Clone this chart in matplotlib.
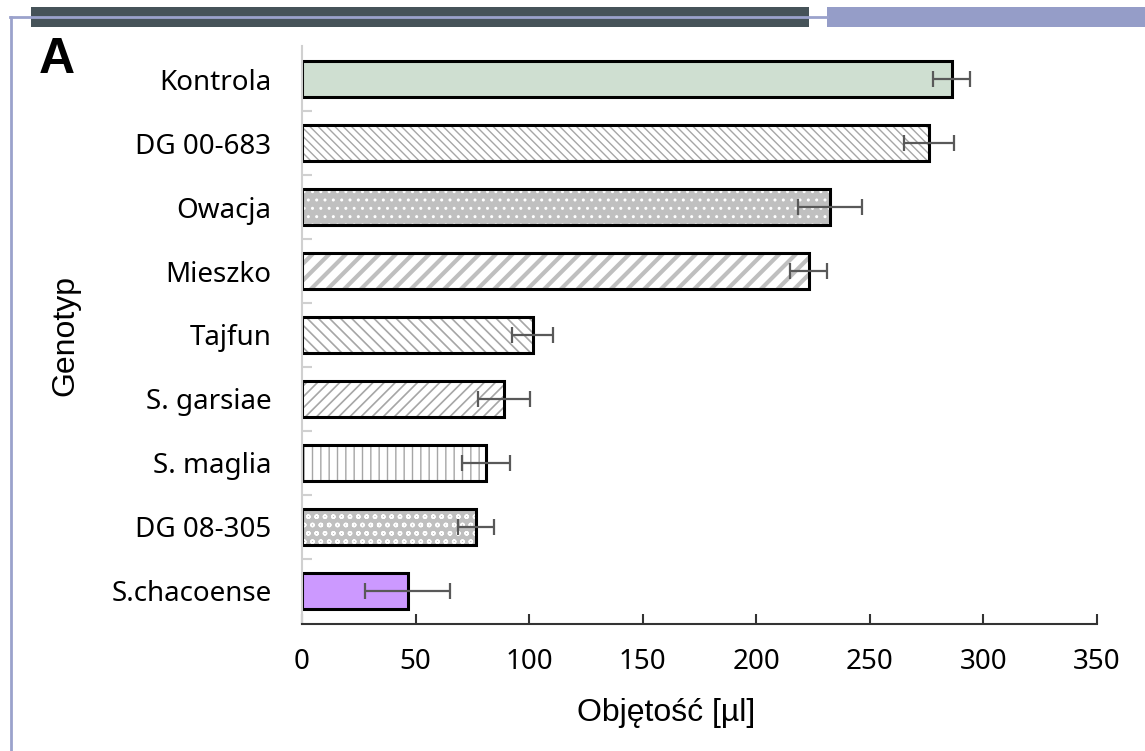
import numpy as np
import matplotlib
matplotlib.use("Agg")
import matplotlib.pyplot as plt
from matplotlib.patches import Rectangle
from matplotlib.lines import Line2D

genotypes = ["Kontrola", "DG 00-683", "Owacja", "Mieszko", "Tajfun",
             "S. garsiae", "S. maglia", "DG 08-305", "S.chacoense"]
volume = [286, 276, 232.5, 223, 101.5, 89, 81, 76.5, 46.5]
errors = [8, 11, 14, 8, 9, 11.3, 10.7, 8, 18.8]
x_ticks = [0, 50, 100, 150, 200, 250, 300, 350]

# fill styles per bar: (face, hatch, hatch colour, hatch width)
styles = [
    ("#cfdfd1", None, None, 1.0),
    ("white", "\\\\\\\\", "#a6a6a6", 1.0),
    ("#c0c0c0", "..", "white", 1.0),
    ("white", "//", "#bfbfbf", 3.0),
    ("white", "\\\\\\", "#a6a6a6", 1.2),
    ("white", "///", "#a6a6a6", 1.2),
    ("white", "||", "#a6a6a6", 1.0),
    ("#c0c0c0", "oo", "white", 1.0),
    ("#cc99ff", None, None, 1.0),
]

fig = plt.figure(figsize=(11.45, 7.51), dpi=100)

# slide decoration
fig.add_artist(Rectangle((31 / 1145, 1 - 27 / 751), (809 - 31) / 1145, 20 / 751,
                         transform=fig.transFigure, color="#465359", lw=0))
fig.add_artist(Rectangle((827 / 1145, 1 - 27 / 751), (1145 - 827) / 1145, 20 / 751,
                         transform=fig.transFigure, color="#959dc8", lw=0))
fig.add_artist(Line2D([10 / 1145, 827 / 1145], [1 - 16.5 / 751] * 2,
                      transform=fig.transFigure, color="#9ba2cc", lw=2))
fig.add_artist(Line2D([11 / 1145] * 2, [1 - 16.5 / 751, 0],
                      transform=fig.transFigure, color="#9ba2cc", lw=2))

ax = fig.add_axes([302 / 1145, 1 - 624 / 751, (1097 - 302) / 1145, (624 - 46) / 751])

y = np.arange(len(genotypes))
for i, (v, (face, hatch, hcol, hlw)) in enumerate(zip(volume, styles)):
    with plt.rc_context({"hatch.linewidth": hlw}):
        if hatch:
            bar = ax.barh(y[i], v, height=0.56, color=face, hatch=hatch, edgecolor=hcol, lw=0)
            for p in bar:
                if hasattr(p, "set_hatch_linewidth"):
                    p.set_hatch_linewidth(hlw)
        else:
            ax.barh(y[i], v, height=0.56, color=face, lw=0)
ax.barh(y, volume, height=0.56, fill=False, edgecolor="black", lw=2.2)
ax.errorbar(volume, y, xerr=errors, linestyle="none", ecolor="#595959",
            elinewidth=1.6, capsize=6, capthick=1.6)

ax.set_xlim(0, 350)
ax.set_ylim(8.52, -0.52)
ax.set_xticks(x_ticks)
ax.set_yticks(y)
ax.set_yticklabels(genotypes, fontfamily="Noto Sans", fontsize=20)
ax.set_xticklabels([str(t) for t in x_ticks], fontfamily="Noto Sans", fontsize=20)
ax.set_yticks(np.arange(len(genotypes) - 1) + 0.5, minor=True)

ax.tick_params(axis="y", which="major", length=0, pad=22)
ax.tick_params(axis="y", which="minor", direction="in", length=7, color="#d0d0d0", width=1.5)
ax.tick_params(axis="x", direction="in", length=7, width=1.5, color="#333333", pad=17)

for side in ["top", "right"]:
    ax.spines[side].set_visible(False)
ax.spines["left"].set_color("#d0d0d0")
ax.spines["left"].set_linewidth(1.5)
ax.spines["bottom"].set_color("#333333")
ax.spines["bottom"].set_linewidth(1.5)

fig.text(666 / 1145, 1 - 713 / 751, "Objętość [µl]", ha="center", va="center",
         fontfamily="Liberation Sans", fontsize=23)
fig.text(65 / 1145, 1 - 335 / 751, "Genotyp", rotation=90, ha="center", va="center",
         fontfamily="Liberation Sans", fontsize=23)
fig.text(57 / 1145, 1 - 60 / 751, "A", ha="center", va="center",
         fontfamily="Liberation Sans", fontweight="bold", fontsize=36)

fig.savefig("out.png", dpi=100)
